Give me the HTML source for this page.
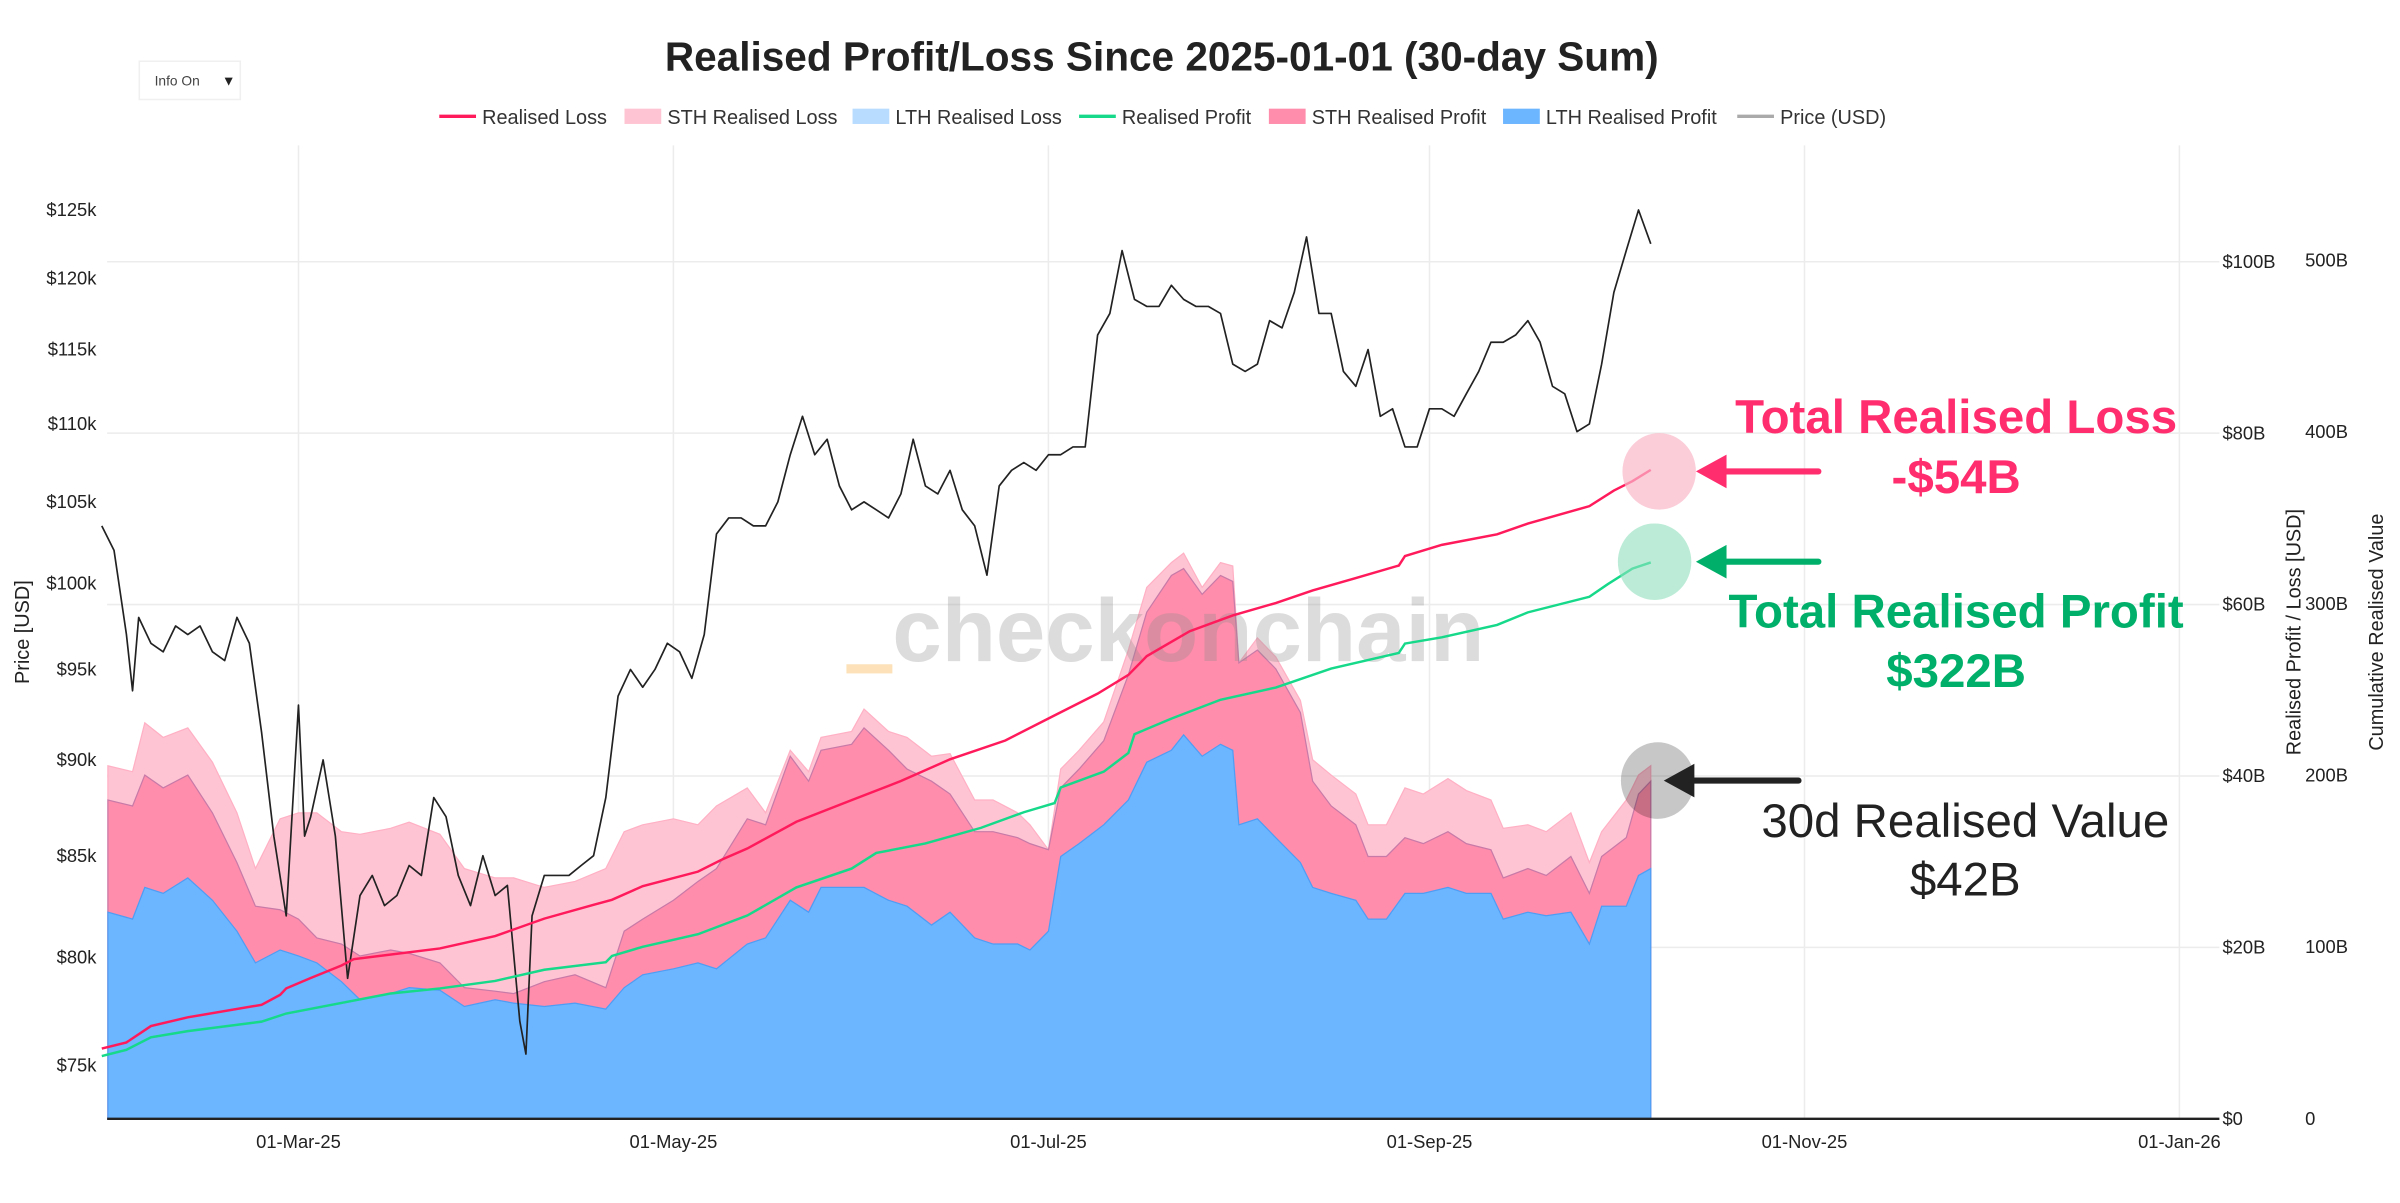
<!DOCTYPE html>
<html><head><meta charset="utf-8"><title>Realised Profit/Loss Since 2025-01-01</title>
<style>
html,body{margin:0;padding:0;background:#fff;}
svg{display:block;font-family:"Liberation Sans",sans-serif;}
</style></head>
<body>
<svg id="chart" width="2400" height="1203" viewBox="0 0 1568 786" preserveAspectRatio="none" xmlns="http://www.w3.org/2000/svg">
  <rect x="0" y="0" width="1568" height="786" fill="#fff"/>
  <g id="grid"></g>
  <g id="areas"></g>
  <g>
    <rect x="553" y="434" width="30" height="6" fill="#fbd9a8" fill-opacity="0.8"/>
    <text x="583" y="432" font-size="58" font-weight="bold" fill="#8a8a8a" fill-opacity="0.3">checkonchain</text>
  </g>
  <g id="lines"></g>
  <g id="axes"></g>

  <text x="759" y="46" text-anchor="middle" font-size="26.5" font-weight="bold" fill="#222">Realised Profit/Loss Since 2025-01-01 (30-day Sum)</text>
  <g>
    <rect x="91" y="40" width="66" height="25" fill="#fff" stroke="#f0f0f0"/>
    <text x="101" y="56" font-size="9" fill="#444">Info On</text>
    <text x="145" y="56" font-size="9" fill="#222">▼</text>
  </g>
  <g id="legend"></g>

  <text transform="translate(19,413) rotate(-90)" text-anchor="middle" font-size="13" fill="#222">Price [USD]</text>
  <text transform="translate(1503,413) rotate(-90)" text-anchor="middle" font-size="13" fill="#222">Realised Profit / Loss [USD]</text>
  <text transform="translate(1557,413) rotate(-90)" text-anchor="middle" font-size="13" fill="#222">Cumulative Realised Value</text>

  <g>
    <ellipse cx="1084" cy="308" rx="24" ry="25" fill="#f9b8c9" fill-opacity="0.7"/>
    <ellipse cx="1081" cy="367" rx="24" ry="25" fill="#8fdfbd" fill-opacity="0.6"/>
    <ellipse cx="1083" cy="510" rx="24" ry="25" fill="#000" fill-opacity="0.22"/>
    <line x1="1188" y1="308" x2="1125" y2="308" stroke="#ff2d6e" stroke-width="4" stroke-linecap="round"/>
    <polygon points="1108,308 1128,297 1128,319" fill="#ff2d6e"/>
    <line x1="1188" y1="367" x2="1125" y2="367" stroke="#00b06a" stroke-width="4" stroke-linecap="round"/>
    <polygon points="1108,367 1128,356 1128,378" fill="#00b06a"/>
    <line x1="1175" y1="510" x2="1104" y2="510" stroke="#222" stroke-width="4" stroke-linecap="round"/>
    <polygon points="1087,510 1107,499 1107,521" fill="#222"/>
    <text x="1278" y="283" text-anchor="middle" font-size="31" font-weight="bold" fill="#ff2d6e">Total Realised Loss</text>
    <text x="1278" y="322" text-anchor="middle" font-size="31" font-weight="bold" fill="#ff2d6e">-$54B</text>
    <text x="1278" y="410" text-anchor="middle" font-size="31" font-weight="bold" fill="#00b06a">Total Realised Profit</text>
    <text x="1278" y="449" text-anchor="middle" font-size="31" font-weight="bold" fill="#00b06a">$322B</text>
    <text x="1284" y="547" text-anchor="middle" font-size="31" fill="#222">30d Realised Value</text>
    <text x="1284" y="585" text-anchor="middle" font-size="31" fill="#222">$42B</text>
  </g>
</svg>
<script>
// ---- data (day-of-year 2025, 1 = Jan 1) ----
const priceDays = [28,30,32,33,34,36,38,40,42,44,46,48,50,52,54,56,58,60,61,62,64,66,68,70,72,74,76,78,80,82,84,86,88,90,92,94,96,97,98,100,102,104,106,108,110,112,114,116,118,120,122,124,126,128,130,132,134,136,138,140,142,144,146,148,150,152,154,156,158,160,162,164,166,168,170,172,174,176,178,180,182,184,186,188,190,192,194,196,198,200,202,204,206,208,210,212,214,216,218,220,222,224,226,228,230,232,234,236,238,240,242,244,246,248,250,252,254,256,258,260,262,264,266,268,270,272,274,276,278,280];
const priceK = [103.5,102,97,93.8,98,96.5,96,97.5,97,97.5,96,95.5,98,96.5,91.5,86,82,93,86,87,90,86,79,83,84,82.5,83,84.5,84,88,87,84,82.5,85,83,83.5,77,75.5,82,84,84,84,84.5,85,88,93.5,95,94,95,96.5,96,94.5,97,103,104,104,103.5,103.5,105,108,110.5,108,109,106,104.5,105,104.5,104,105.5,109,106,105.5,107,104.5,103.5,100.5,106,107,107.5,107,108,108,108.5,108.5,116,117.5,122,118.5,118,118,119.5,118.5,118,118,117.5,114,113.5,114,117,116.5,119,123,117.5,117.5,113.5,112.5,115,110.5,111,108.5,108.5,111,111,110.5,112,113.5,115.5,115.5,116,117,115.5,112.5,112,109.5,110,114,119,122,125,122.5];

const areaDays = [29,33,35,38,42,46,50,53,57,60,63,67,70,75,78,83,87,92,95,100,105,110,113,116,121,125,128,133,136,140,143,145,150,152,156,159,163,166,170,173,177,179,182,184,187,191,195,198,202,204,207,210,212,213,216,219,223,225,228,232,234,237,240,243,247,250,254,256,260,263,267,270,272,276,278,280];
const totalTopB = [41.2,40.5,46.2,44.5,45.6,41.6,35.7,29.2,35.0,35.7,35.7,33.5,33.2,33.9,34.6,33.2,29.2,28.1,28.1,27.0,27.7,29.2,33.5,34.3,35.0,34.3,36.5,38.6,35.7,43.0,40.5,44.5,45.2,47.8,45.2,44.5,42.3,42.6,37.2,37.2,35.7,34.3,31.4,40.8,43.0,46.3,54.7,62.0,64.9,66.0,62.0,64.9,64.5,53.2,56.1,53.9,48.8,41.9,40.1,37.9,34.3,34.3,38.6,37.9,39.7,38.3,37.2,33.9,34.3,33.5,35.7,29.9,33.5,37.2,40.1,41.2];
const sthProfitTopB = [37.2,36.5,40.1,38.6,40.1,35.7,29.9,24.8,24.4,23.3,21.1,20.4,19.0,19.7,19.3,18.2,15.3,14.9,14.6,16.0,16.8,15.3,21.9,23.3,25.5,27.7,29.2,35.0,34.3,42.3,39.4,43.0,43.7,45.6,43.0,40.8,39.4,37.9,33.5,33.5,32.8,32.1,31.4,38.6,40.8,44.1,51.8,59.1,63.4,64.2,61.2,63.4,62.7,53.2,54.7,52.5,47.4,39.4,36.5,34.3,30.6,30.6,32.8,32.1,33.5,32.1,31.4,28.1,29.2,28.4,30.6,26.3,30.6,32.8,37.9,39.4];
const lthProfitB = [24.1,23.3,27.0,26.3,28.1,25.5,21.9,18.2,19.7,19.0,18.2,16.0,13.9,14.6,15.3,15.0,13.1,13.9,13.5,13.1,13.5,12.8,15.3,16.8,17.5,18.2,17.5,20.4,21.1,25.5,24.1,27.0,27.0,27.0,25.5,24.8,22.6,24.1,21.1,20.4,20.4,19.7,21.9,30.6,32.1,34.3,37.2,41.6,43.0,44.8,42.3,43.7,43.0,34.3,35.0,32.8,29.9,27.0,26.3,25.5,23.3,23.3,26.3,26.3,27.0,26.3,26.3,23.3,24.1,23.7,24.1,20.4,24.8,24.8,28.4,29.2];

const lossDays = [28,32,36,42,54,57,58,62,67,69,83,92,100,108,111,116,125,129,133,141,150,158,166,175,183,190,195,198,205,212,219,225,232,239,240,246,255,260,270,274,277,280];
const cumLossB = [40.9,44.5,54,59.1,66.4,72.2,75.9,82,89.3,93,99.2,106.4,116.6,124.6,127.5,135.5,143.9,151.2,157.4,173,185.6,196.7,209.4,220.3,234.9,247.6,258.5,269.4,284,293.1,300.4,307.7,314.9,322.2,327.7,334.2,340.4,346.6,356.8,365.9,371.3,377.9];
const profitDays = [28,32,36,42,54,58,67,75,83,92,100,110,111,116,125,133,141,150,154,162,171,178,183,184,191,195,196,202,210,219,228,239,240,246,255,260,270,273,277,280];
const cumProfitB = [36.5,40.2,47.5,51.1,56.6,61.3,67.5,73,75.9,80.3,86.8,91.2,94.8,100.2,107.5,118.4,134.8,145.7,154.8,160.3,169.4,178.5,183.9,193,202.1,213,224,233.1,244,251.2,262.2,271.3,276.7,280.4,287.6,294.9,304,311.3,320.4,324];

const priceTicks = [75,80,85,90,95,100,105,110,115,120,125];
const pnlTicks = [0,20,40,60,80,100];
const cumTicks = [0,100,200,300,400,500];
const dateTickDays = [60,121,182,244,305,366];
const dateTickLabels = ["01-Mar-25","01-May-25","01-Jul-25","01-Sep-25","01-Nov-25","01-Jan-26"];

// ---- scales ----
const NS = "http://www.w3.org/2000/svg";
const X0 = 70, X1 = 1450, YB = 731;
function xScale(d){ return 195 + (d - 60) * 4.016; }
function yPrice(k){ return 696 - Math.log(k / 75) * 1094; }
function yPnl(b){ return YB - b * 5.6; }
function yCum(b){ return YB - b * 1.122; }
function mk(tag, attrs, parent){
  const el = document.createElementNS(NS, tag);
  for (const k in attrs) el.setAttribute(k, attrs[k]);
  parent.appendChild(el);
  return el;
}
const grid = document.getElementById('grid');
const axes = document.getElementById('axes');
const areas = document.getElementById('areas');
const lines = document.getElementById('lines');
const legend = document.getElementById('legend');

pnlTicks.forEach(function(t){
  if (t === 0) return;
  const g = mk('line', {x1:X0, x2:X1, y1:yPnl(t), y2:yPnl(t), stroke:'#ececec', 'stroke-width':1}, grid);
  
  
});
dateTickDays.forEach(function(d){
  const g = mk('line', {x1:xScale(d), x2:xScale(d), y1:95, y2:YB, stroke:'#ececec', 'stroke-width':1}, grid);
  
  
});

function areaPath(days, vals){
  let s = 'M' + xScale(days[0]) + ',' + YB;
  for (let i = 0; i < days.length; i++) s += ' L' + xScale(days[i]).toFixed(1) + ',' + yPnl(vals[i]).toFixed(1);
  s += ' L' + xScale(days[days.length-1]).toFixed(1) + ',' + YB + ' Z';
  return s;
}
const a1 = mk('path', {d:areaPath(areaDays, totalTopB), fill:'#ffc4d3', stroke:'#ffb0c4', 'stroke-width':0.8}, areas);


const a2 = mk('path', {d:areaPath(areaDays, sthProfitTopB), fill:'#ff8dab', stroke:'#c77aa8', 'stroke-width':0.8}, areas);


const a3 = mk('path', {d:areaPath(areaDays, lthProfitB), fill:'#6cb5ff', stroke:'#4e9df5', 'stroke-width':0.8}, areas);



function linePath(days, vals, yf){
  return days.map(function(d, i){ return (i ? 'L' : 'M') + xScale(d).toFixed(1) + ',' + yf(vals[i]).toFixed(1); }).join(' ');
}
const pl = mk('path', {d:linePath(priceDays, priceK, yPrice), fill:'none', stroke:'#222', 'stroke-width':1.1, 'stroke-linejoin':'round'}, lines);


const ll = mk('path', {d:linePath(lossDays, cumLossB, yCum), fill:'none', stroke:'#ff1a5c', 'stroke-width':1.6}, lines);


const gl = mk('path', {d:linePath(profitDays, cumProfitB, yCum), fill:'none', stroke:'#16d98a', 'stroke-width':1.6}, lines);



const base = mk('line', {x1:X0, x2:X1, y1:YB, y2:YB, stroke:'#222', 'stroke-width':1.5}, axes);


priceTicks.forEach(function(t){
  const tx = mk('text', {x:63, y:yPrice(t)+4, 'text-anchor':'end', 'font-size':12, fill:'#222'}, axes);
  tx.textContent = '$' + t + 'k';
  
  
});
pnlTicks.forEach(function(t){
  const tx = mk('text', {x:1452, y:yPnl(t)+4, 'font-size':12, fill:'#222'}, axes);
  tx.textContent = '$' + t + (t ? 'B' : '');
  
  
});
cumTicks.forEach(function(t){
  const tx = mk('text', {x:1506, y:yCum(t)+4, 'font-size':12, fill:'#222'}, axes);
  tx.textContent = t ? (t + 'B') : '0';
  
  
});
dateTickDays.forEach(function(d, i){
  const tx = mk('text', {x:xScale(d), y:750, 'text-anchor':'middle', 'font-size':12, fill:'#222'}, axes);
  tx.textContent = dateTickLabels[i];
  
  
});

const legendItems = [
  ['Realised Loss', 287, 'line', '#ff1a5c'],
  ['STH Realised Loss', 408, 'box', '#ffc4d3'],
  ['LTH Realised Loss', 557, 'box', '#b8dcff'],
  ['Realised Profit', 705, 'line', '#16d98a'],
  ['STH Realised Profit', 829, 'box', '#ff8dab'],
  ['LTH Realised Profit', 982, 'box', '#6cb5ff'],
  ['Price (USD)', 1135, 'line', '#aaaaaa']
];
legendItems.forEach(function(it){
  const g = mk('g', {}, legend);
  
  
  if (it[2] === 'line') mk('line', {x1:it[1], x2:it[1]+24, y1:76, y2:76, stroke:it[3], 'stroke-width':2.2}, g);
  else mk('rect', {x:it[1], y:71, width:24, height:10, fill:it[3]}, g);
  const t = mk('text', {x:it[1]+28, y:81, 'font-size':13, fill:'#333'}, g);
  t.textContent = it[0];
});
</script>
</body></html>
